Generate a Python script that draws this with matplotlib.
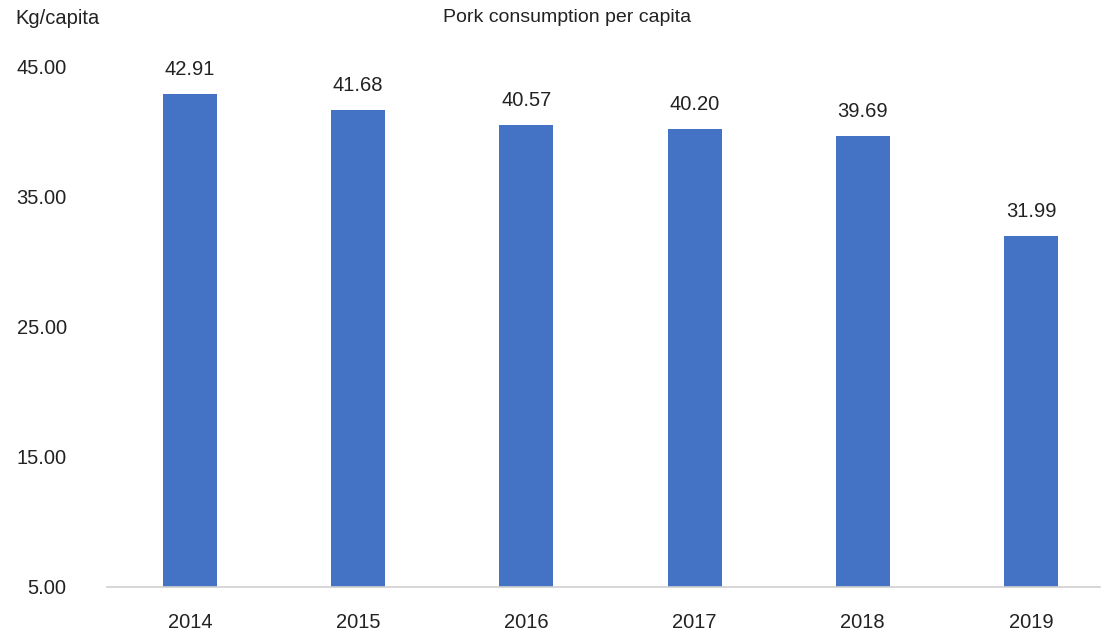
import matplotlib.pyplot as plt

plt.rcParams['font.family'] = ['Liberation Sans', 'DejaVu Sans']

years = ['2014', '2015', '2016', '2017', '2018', '2019']
consumption = [42.91, 41.68, 40.57, 40.20, 39.69, 31.99]
y_ticks = [5, 15, 25, 35, 45]

W, H = 1107, 633
fig = plt.figure(figsize=(W / 100, H / 100), dpi=100)
ax = fig.add_axes([107 / W, 1 - 587 / H, (1100 - 107) / W, (587 - 67) / H])

x = range(len(years))
ax.bar(x, consumption, width=0.32, color='#4472C4')
ax.set_ylim(5, 45)
ax.set_xlim(-0.493, 5.41)

fs = 14.5
# value labels above each bar
for xi, v in zip(x, consumption):
    ax.text(xi, v + 1.15, f'{v:.2f}', ha='center', va='bottom', fontsize=fs,
            color='#222222', clip_on=False)

ax.set_xticks(list(x))
ax.set_xticklabels(years, fontsize=fs, color='#222222')
ax.set_yticks(y_ticks)
ax.set_yticklabels([f'{t:.2f}' for t in y_ticks], fontsize=fs, color='#222222')
ax.tick_params(axis='y', length=0, pad=29)
ax.tick_params(axis='x', length=0, pad=19)

for s in ['top', 'right', 'left']:
    ax.spines[s].set_visible(False)
ax.spines['bottom'].set_color('#D0D0D0')
ax.spines['bottom'].set_linewidth(1.2)

fig.text(15 / W, 1 - 18 / H, 'Kg/capita', ha='left', va='center', fontsize=fs, color='#222222')
fig.text(567 / W, 1 - 18 / H, 'Pork consumption per capita', ha='center', va='center',
         fontsize=14, color='#222222')

fig.savefig('out.png', dpi=100)
